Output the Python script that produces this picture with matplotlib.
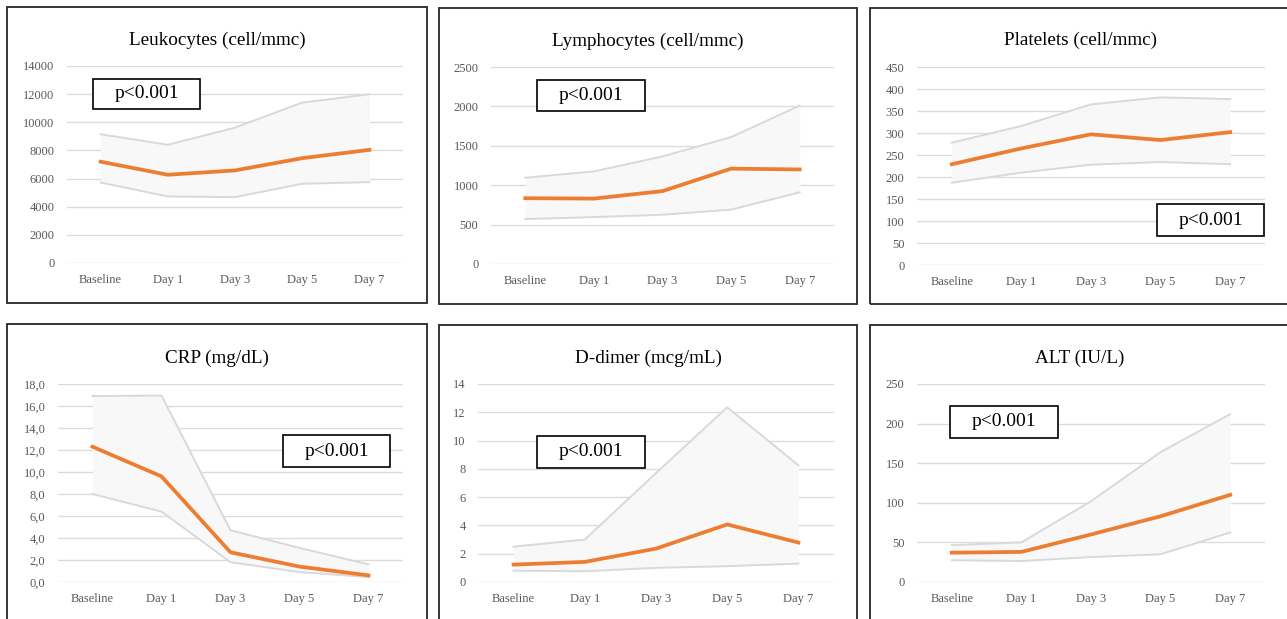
import matplotlib
matplotlib.use("Agg")
import matplotlib.pyplot as plt
from matplotlib.patches import Rectangle

plt.rcParams['font.family'] = ['Liberation Serif', 'DejaVu Serif']

W, H = 1287, 619
categories = ["Baseline", "Day 1", "Day 3", "Day 5", "Day 7"]

titles = ["Leukocytes (cell/mmc)", "Lymphocytes (cell/mmc)", "Platelets (cell/mmc)",
          "CRP (mg/dL)", "D-dimer (mcg/mL)", "ALT (IU/L)"]

leuko_median = [7200, 6270, 6580, 7450, 8040]
leuko_upper = [9150, 8400, 9620, 11400, 11990]
leuko_lower = [5720, 4730, 4680, 5630, 5750]

lympho_median = [835, 830, 925, 1210, 1200]
lympho_upper = [1095, 1175, 1365, 1610, 2010]
lympho_lower = [570, 595, 625, 690, 910]

plt_median = [229, 265, 297, 284, 302]
plt_upper = [278, 316, 365, 381, 377]
plt_lower = [187, 210, 228, 234, 229]

crp_median = [12.3, 9.6, 2.7, 1.4, 0.6]
crp_upper = [16.9, 16.95, 4.7, 3.1, 1.6]
crp_lower = [8.0, 6.4, 1.8, 0.9, 0.45]

ddimer_median = [1.23, 1.42, 2.36, 4.07, 2.79]
ddimer_upper = [2.5, 3.0, 7.7, 12.35, 8.25]
ddimer_lower = [0.8, 0.76, 1.0, 1.12, 1.3]

alt_median = [37, 38, 60, 83, 110]
alt_upper = [46.5, 50, 102, 164, 212]
alt_lower = [27.5, 26.5, 31.5, 35, 62.5]

y_max = [14000, 2500, 450, 18, 14, 250]
y_step = [2000, 500, 50, 2, 2, 50]
y_fmt = ["{:.0f}", "{:.0f}", "{:.0f}", "{:.1f}", "{:.0f}", "{:.0f}"]
p_label = "p<0.001"

medians = [leuko_median, lympho_median, plt_median, crp_median, ddimer_median, alt_median]
uppers = [leuko_upper, lympho_upper, plt_upper, crp_upper, ddimer_upper, alt_upper]
lowers = [leuko_lower, lympho_lower, plt_lower, crp_lower, ddimer_lower, alt_lower]

# layout in pixels
axes_px = [  # x0, x1, ytop, ybottom
    (67, 403, 66, 263),
    (491, 834, 67, 264),
    (917, 1265, 67, 265),
    (58, 403, 384, 582),
    (478, 834, 384, 582),
    (917, 1265, 384, 582),
]
frames_px = [
    (7, 7, 427, 303),
    (439, 8, 857, 304),
    (870, 8, 1295, 304),
    (7, 324, 427, 640),
    (439, 325, 857, 640),
    (870, 325, 1295, 640),
]
title_px = [(217, 40), (648, 41), (1080, 40), (217, 358), (648, 358), (1080, 358)]
pbox_px = [
    (93, 79, 200, 109),
    (537, 80, 645, 111),
    (1157, 204, 1264, 236),
    (283, 435, 390, 467),
    (537, 436, 645, 468),
    (950, 406, 1058, 438),
]

fig = plt.figure(figsize=(W / 100, H / 100), dpi=100)
fig.patch.set_facecolor("white")

def fx(x):
    return x / W

def fy(y):
    return 1 - y / H

for f in frames_px:
    x0, y0, x1, y1 = f
    fig.patches.append(Rectangle((fx(x0), fy(y1)), fx(x1 - x0), (y1 - y0) / H,
                                 transform=fig.transFigure, fill=False,
                                 edgecolor="#262626", linewidth=1.3, zorder=0))

xs = list(range(len(categories)))
for i in range(6):
    x0, x1, yt, yb = axes_px[i]
    ax = fig.add_axes([fx(x0), fy(yb), fx(x1 - x0), (yb - yt) / H])
    ax.set_facecolor("none")
    ax.fill_between(xs, lowers[i], uppers[i], color="#f8f8f8", linewidth=0, zorder=1)
    ax.plot(xs, uppers[i], color="#d9d9d9", linewidth=1.4, zorder=2)
    ax.plot(xs, lowers[i], color="#d9d9d9", linewidth=1.4, zorder=2)
    ax.plot(xs, medians[i], color="#ED7D31", linewidth=2.7, zorder=3,
            solid_joinstyle="round")
    ax.set_xlim(-0.5, 4.5)
    ax.set_ylim(0, y_max[i])
    ticks = [k * y_step[i] for k in range(int(round(y_max[i] / y_step[i])) + 1)]
    ax.set_yticks(ticks)
    ax.set_yticklabels([y_fmt[i].format(t).replace(".", ",") for t in ticks])
    ax.set_xticks(xs)
    ax.set_xticklabels(categories)
    ax.grid(axis="y", color="#dcdcdc", linewidth=1.0, zorder=0)
    ax.set_axisbelow(True)
    for s in ax.spines.values():
        s.set_visible(False)
    ax.tick_params(axis="both", length=0, labelsize=9, colors="#595959")
    ax.tick_params(axis="y", pad=9)
    ax.tick_params(axis="x", pad=8)
    tx, ty = title_px[i]
    fig.text(fx(tx), fy(ty), titles[i], ha="center", va="center", fontsize=13.8,
             color="#000000")
    bx0, by0, bx1, by1 = pbox_px[i]
    fig.patches.append(Rectangle((fx(bx0), fy(by1)), fx(bx1 - bx0), (by1 - by0) / H,
                                 transform=fig.transFigure, facecolor="white",
                                 edgecolor="#000000", linewidth=1.2, zorder=5))
    fig.text(fx((bx0 + bx1) / 2), fy((by0 + by1) / 2), p_label, ha="center", va="center",
             fontsize=14, color="#000000", zorder=6)

fig.savefig("out.png", dpi=100, facecolor="white")
